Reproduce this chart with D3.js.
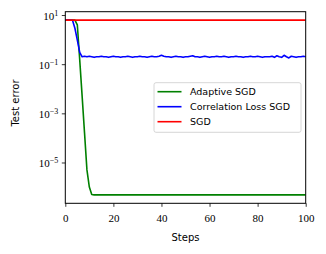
<!DOCTYPE html>
<html>
<head>
<meta charset="utf-8">
<script src="https://cdn.jsdelivr.net/npm/d3@7"></script>
<style>
  body { margin: 0; background: #fff; }
  svg text { fill: #000; }
</style>
</head>
<body>
<div id="chart"></div>
<script>
// values, one per step (0..100)
const sgd = [
  6.2,6.2,6.2,6.2,6.2,6.2,6.2,6.2,6.2,6.2,
  6.2,6.2,6.2,6.2,6.2,6.2,6.2,6.2,6.2,6.2,
  6.2,6.2,6.2,6.2,6.2,6.2,6.2,6.2,6.2,6.2,
  6.2,6.2,6.2,6.2,6.2,6.2,6.2,6.2,6.2,6.2,
  6.2,6.2,6.2,6.2,6.2,6.2,6.2,6.2,6.2,6.2,
  6.2,6.2,6.2,6.2,6.2,6.2,6.2,6.2,6.2,6.2,
  6.2,6.2,6.2,6.2,6.2,6.2,6.2,6.2,6.2,6.2,
  6.2,6.2,6.2,6.2,6.2,6.2,6.2,6.2,6.2,6.2,
  6.2,6.2,6.2,6.2,6.2,6.2,6.2,6.2,6.2,6.2,
  6.2,6.2,6.2,6.2,6.2,6.2,6.2,6.2,6.2,6.2,
  6.2
]
const corrLoss = [
  6.2,6.2,6.2,6.1,2.9,0.95,0.3,0.2,0.21,0.2,
  0.21,0.2,0.19,0.2,0.2,0.21,0.2,0.2,0.19,0.2,
  0.21,0.2,0.2,0.19,0.2,0.2,0.21,0.2,0.19,0.2,
  0.2,0.21,0.2,0.2,0.19,0.2,0.21,0.2,0.2,0.21,
  0.23,0.21,0.2,0.2,0.19,0.2,0.21,0.2,0.2,0.19,
  0.2,0.2,0.21,0.22,0.2,0.2,0.19,0.2,0.21,0.2,
  0.19,0.2,0.2,0.21,0.2,0.2,0.21,0.2,0.19,0.2,
  0.2,0.21,0.2,0.2,0.19,0.2,0.2,0.21,0.2,0.2,
  0.21,0.2,0.19,0.2,0.2,0.2,0.21,0.19,0.22,0.2,
  0.19,0.23,0.2,0.18,0.21,0.2,0.19,0.2,0.2,0.21,
  0.2
]
const adaptive = [
  6.2,6.2,6.2,6.2,6.2,4.0,0.15,5e-3,1.6e-4,5e-6,
  1e-6,5e-7,4.8e-7,4.8e-7,4.8e-7,4.8e-7,4.8e-7,4.8e-7,4.8e-7,4.8e-7,
  4.8e-7,4.8e-7,4.8e-7,4.8e-7,4.8e-7,4.8e-7,4.8e-7,4.8e-7,4.8e-7,4.8e-7,
  4.8e-7,4.8e-7,4.8e-7,4.8e-7,4.8e-7,4.8e-7,4.8e-7,4.8e-7,4.8e-7,4.8e-7,
  4.8e-7,4.8e-7,4.8e-7,4.8e-7,4.8e-7,4.8e-7,4.8e-7,4.8e-7,4.8e-7,4.8e-7,
  4.8e-7,4.8e-7,4.8e-7,4.8e-7,4.8e-7,4.8e-7,4.8e-7,4.8e-7,4.8e-7,4.8e-7,
  4.8e-7,4.8e-7,4.8e-7,4.8e-7,4.8e-7,4.8e-7,4.8e-7,4.8e-7,4.8e-7,4.8e-7,
  4.8e-7,4.8e-7,4.8e-7,4.8e-7,4.8e-7,4.8e-7,4.8e-7,4.8e-7,4.8e-7,4.8e-7,
  4.8e-7,4.8e-7,4.8e-7,4.8e-7,4.8e-7,4.8e-7,4.8e-7,4.8e-7,4.8e-7,4.8e-7,
  4.8e-7,4.8e-7,4.8e-7,4.8e-7,4.8e-7,4.8e-7,4.8e-7,4.8e-7,4.8e-7,4.8e-7,
  4.8e-7
]
const seriesNames = ['Adaptive SGD', 'Correlation Loss SGD', 'SGD']
const seriesColors = ['#008000', '#0000ff', '#ff0000']
const xTicks = [0, 20, 40, 60, 80, 100]
const yTickExps = [1, -1, -3, -5]

const width = 326, height = 254
const margin = {left: 65.3, right: 20.3, top: 11.7, bottom: 50.7}

const svg = d3.select('#chart').append('svg')
    .attr('width', width)
    .attr('height', height)

const x = d3.scaleLinear().domain([0, 100])
    .range([margin.left, width - margin.right])
const y = d3.scaleLog().domain([Math.pow(10, -6.66), Math.pow(10, 1.135)])
    .range([height - margin.bottom, margin.top])

svg.append('clipPath').attr('id', 'plotclip')
    .append('rect')
    .attr('x', margin.left).attr('y', margin.top)
    .attr('width', x(100) - x(0))
    .attr('height', y.range()[0] - y.range()[1])

const line = d3.line()
    .x((d, i) => x(i))
    .y(d => y(d))

// draw order: adaptive, then corr loss, then sgd on top
const allSeries = [adaptive, corrLoss, sgd]
allSeries.forEach((s, k) => {
    svg.append('path')
        .datum(s)
        .attr('clip-path', 'url(#plotclip)')
        .attr('fill', 'none')
        .attr('stroke', seriesColors[k])
        .attr('stroke-width', 1.6)
        .attr('stroke-linejoin', 'round')
        .attr('d', line)
})

// frame
svg.append('rect')
    .attr('x', margin.left).attr('y', margin.top)
    .attr('width', x(100) - x(0))
    .attr('height', y.range()[0] - y.range()[1])
    .attr('fill', 'none')
    .attr('stroke', '#000')
    .attr('stroke-width', 1)

// x axis
const xAxis = d3.axisBottom(x).tickValues(xTicks).tickSize(3.5).tickPadding(7)
const gx = svg.append('g')
    .attr('transform', `translate(0,${y.range()[0]})`)
    .call(xAxis)
gx.select('.domain').remove()
gx.selectAll('line').attr('stroke', '#000').attr('stroke-width', 0.8)
gx.selectAll('text')
    .attr('font-family', '"Liberation Serif", "DejaVu Serif", serif')
    .attr('font-size', 11)
    .attr('fill', '#000')

// y axis (log, powers of ten)
const yAxis = d3.axisLeft(y)
    .tickValues(yTickExps.map(e => Math.pow(10, e)))
    .tickSize(3.5).tickPadding(3.5)
    .tickFormat('')
const gy = svg.append('g')
    .attr('transform', `translate(${margin.left},0)`)
    .call(yAxis)
gy.select('.domain').remove()
gy.selectAll('line').attr('stroke', '#000').attr('stroke-width', 0.8)
gy.selectAll('.tick').each(function(d, i) {
    const t = d3.select(this).select('text')
        .attr('font-family', '"Liberation Serif", "DejaVu Serif", serif')
        .attr('font-size', 11)
        .attr('fill', '#000')
        .attr('dy', '0.4em')
    t.text('')
    t.append('tspan').text('10')
    t.append('tspan')
        .attr('font-size', 8)
        .attr('dy', '-0.55em')
        .text(yTickExps[i] < 0 ? '\u2212' + Math.abs(yTickExps[i]) : yTickExps[i])
})

// axis labels
svg.append('text')
    .attr('x', (x(0) + x(100)) / 2)
    .attr('y', 241)
    .attr('text-anchor', 'middle')
    .attr('font-family', '"DejaVu Sans", sans-serif')
    .attr('font-size', 10)
    .text('Steps')

svg.append('text')
    .attr('transform', 'translate(18.5,103) rotate(-90)')
    .attr('text-anchor', 'middle')
    .attr('font-family', '"DejaVu Sans", sans-serif')
    .attr('font-size', 10)
    .text('Test error')

// legend
const legend = svg.append('g').attr('transform', 'translate(154,82.7)')
legend.append('rect')
    .attr('width', 147).attr('height', 49.6)
    .attr('rx', 2)
    .attr('fill', '#fff').attr('fill-opacity', 0.8)
    .attr('stroke', '#cccccc').attr('stroke-width', 0.8)
seriesNames.forEach((name, i) => {
    const row = legend.append('g').attr('transform', `translate(0,${9 + i * 15})`)
    row.append('line')
        .attr('x1', 3.5).attr('x2', 27.5)
        .attr('stroke', seriesColors[i]).attr('stroke-width', 1.6)
    row.append('text')
        .attr('x', 36).attr('dy', '0.35em')
        .attr('font-family', '"DejaVu Sans", sans-serif')
        .attr('font-size', 9.5)
        .text(name)
})
</script>
</body>
</html>
